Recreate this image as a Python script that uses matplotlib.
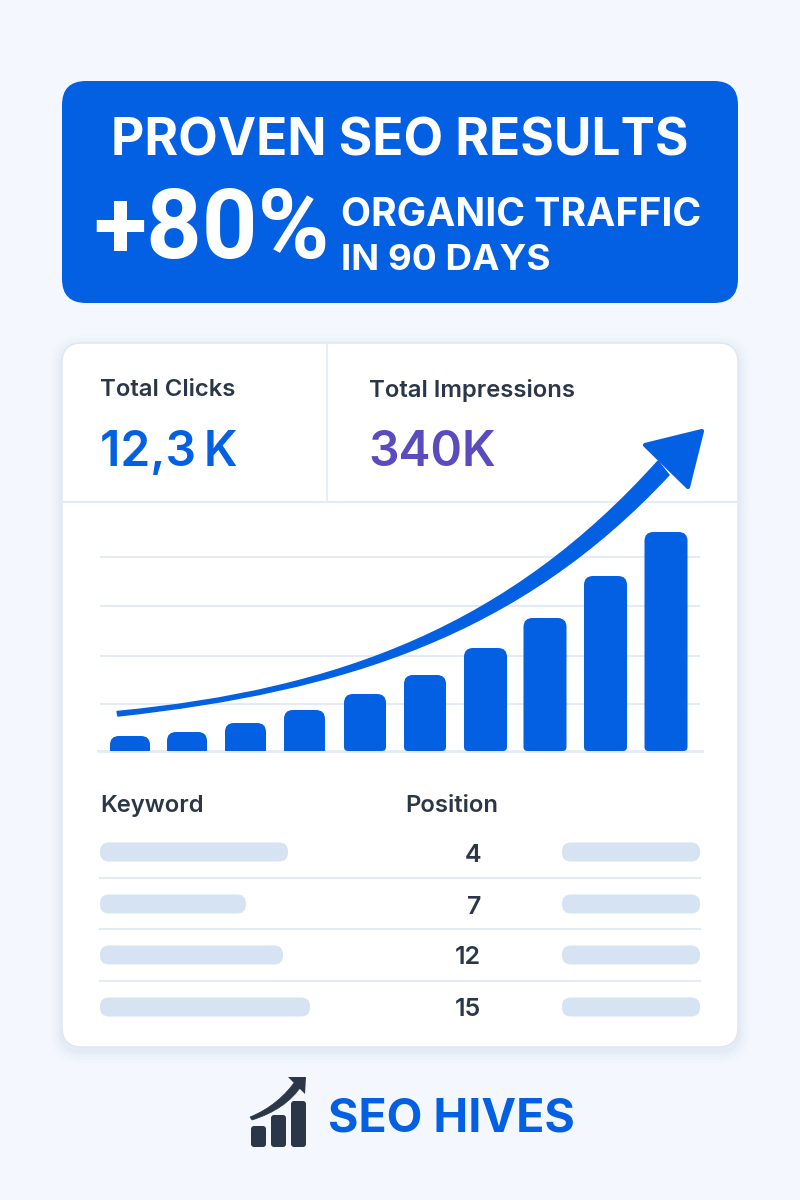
import matplotlib
matplotlib.use("Agg")
import matplotlib.pyplot as plt
from matplotlib.patches import FancyBboxPatch, PathPatch, Polygon
from matplotlib.path import Path

plt.rcParams["font.family"] = ["Inter", "DejaVu Sans"]

BLUE = "#0360E3"
DARK = "#2B3648"
PURPLE = "#5A4BBE"
LINE = "#E4EBF6"
PILL = "#D6E3F3"

# Chart values
bar_values = [15, 19, 28, 41, 57, 76, 103, 133, 175, 219]
grid_values = [47, 95, 145, 194]

# Table values
keyword_lengths = [188, 146, 183, 210]
positions = [4, 7, 12, 15]

kpi_labels = ["Total Clicks", "Total Impressions"]
kpi_values = ["12,3\u2009K", "340K"]

# Layout, in pixels
bar_centres = [130, 187, 245.5, 304.5, 365, 425, 485.5, 545, 605.5, 666]
bar_widths = [40, 40, 41, 41, 42, 42, 43, 43, 43, 43]
row_centres = [852, 904, 955, 1007]
row_lines = [878, 929, 981]


def rounded_box(ax, x0, y0, x1, y1, radius, **kwargs):
    box = FancyBboxPatch(
        (x0 + radius, y0 + radius),
        x1 - x0 - 2 * radius,
        y1 - y0 - 2 * radius,
        boxstyle=f"round,pad={radius},rounding_size={radius}",
        **kwargs,
    )
    ax.add_patch(box)
    return box


def bar_path(x0, x1, top, top_r, bottom_r):
    # Bar with big rounded top corners and small bottom ones
    verts = [
        (x0 + bottom_r, 0),
        (x1 - bottom_r, 0),
        (x1, 0),
        (x1, bottom_r),
        (x1, top - top_r),
        (x1, top),
        (x1 - top_r, top),
        (x0 + top_r, top),
        (x0, top),
        (x0, top - top_r),
        (x0, bottom_r),
        (x0, 0),
        (x0 + bottom_r, 0),
    ]
    codes = [
        Path.MOVETO, Path.LINETO, Path.CURVE3, Path.CURVE3, Path.LINETO,
        Path.CURVE3, Path.CURVE3, Path.LINETO, Path.CURVE3, Path.CURVE3,
        Path.LINETO, Path.CURVE3, Path.CURVE3,
    ]
    return Path(verts, codes)


fig = plt.figure(figsize=(8, 12), dpi=100, facecolor="#F4F8FE")
ax = fig.add_axes([0, 0, 1, 1], zorder=0)
ax.set_xlim(0, 800)
ax.set_ylim(1200, 0)
ax.axis("off")

# Header banner
rounded_box(ax, 62, 81, 738, 303, 24, fc=BLUE, ec="none")
ax.text(400, 142, "PROVEN SEO RESULTS", color="white", fontsize=37,
        weight="bold", ha="center", va="center")
ax.text(93, 232, "+80%", color="white", fontsize=70, weight="bold",
        family=["Roboto", "DejaVu Sans"], ha="left", va="center")
ax.text(341, 216, "ORGANIC TRAFFIC", color="white", fontsize=28.2,
        weight="bold", ha="left", va="center")
ax.text(341, 261, "IN 90 DAYS", color="white", fontsize=26.5,
        weight="bold", ha="left", va="center")

# Card with soft shadow
for grow, alpha in [(12, 0.012), (9, 0.015), (6, 0.02), (3, 0.03)]:
    rounded_box(ax, 62 - grow, 343 + 4 - grow, 738 + grow, 1047 + 4 + grow,
                20 + grow, fc="#3A5A9A", ec="none", alpha=alpha)
rounded_box(ax, 62, 343, 738, 1047, 20, fc="white", ec="#DFE6F2", lw=1)
ax.plot([62, 738], [502, 502], color=LINE, lw=1.5)
ax.plot([327, 327], [343, 502], color=LINE, lw=1.2)

# KPI block
ax.text(100, 390, kpi_labels[0], color=DARK, fontsize=17.2, weight="semibold",
        ha="left", va="center")
ax.text(369, 390, kpi_labels[1], color=DARK, fontsize=17.2, weight="semibold",
        ha="left", va="center")
ax.text(100, 453, kpi_values[0], color=BLUE, fontsize=34.5, weight="semibold",
        ha="left", va="center")
ax.text(368, 453, kpi_values[1], color=PURPLE, fontsize=34.5, weight="semibold",
        ha="left", va="center")

# Bar chart, one unit is one pixel
chart = fig.add_axes([98 / 800, 1 - 751 / 1200, 604 / 800, 251 / 1200], zorder=1)
chart.set_xlim(98, 702)
chart.set_ylim(0, 251)
chart.axis("off")
chart.hlines(grid_values, 100, 700, color=LINE, lw=1.5, zorder=1)
chart.plot([98, 702], [0, 0], color=LINE, lw=2, zorder=1, clip_on=False)

for i, (centre, width, value) in enumerate(zip(bar_centres, bar_widths, bar_values)):
    top_r = min(9, value * 0.6)
    bottom_r = 0 if i < 4 else 4
    chart.add_patch(PathPatch(
        bar_path(centre - width / 2, centre + width / 2, value, top_r, bottom_r),
        fc=BLUE, ec="none", zorder=2,
    ))

# Trend arrow over the bars, in page pixels
shaft = Path(
    [(117, 711.5), (340, 690), (510, 626), (658, 461), (669, 475),
     (520, 635), (345, 691), (118, 716), (117, 711.5)],
    [Path.MOVETO, Path.CURVE4, Path.CURVE4, Path.CURVE4, Path.LINETO,
     Path.CURVE4, Path.CURVE4, Path.CURVE4, Path.CLOSEPOLY],
)
chart.add_patch(PathPatch(shaft, fc=BLUE, ec=BLUE, lw=1, zorder=3,
                          transform=ax.transData, clip_on=False))
chart.add_patch(Polygon([(702, 431), (645, 445), (688, 487)], closed=True,
                        fc=BLUE, ec=BLUE, lw=3, joinstyle="round", zorder=3,
                        transform=ax.transData, clip_on=False))

# Keyword table
ax.text(100, 806, "Keyword", color=DARK, fontsize=17.2, weight="semibold",
        ha="left", va="center")
ax.text(405, 806, "Position", color=DARK, fontsize=17.2, weight="semibold",
        ha="left", va="center")
for y, length, pos in zip(row_centres, keyword_lengths, positions):
    rounded_box(ax, 100, y - 9.5, 100 + length, y + 9.5, 9, fc=PILL, ec="none")
    rounded_box(ax, 562, y - 9.5, 700, y + 9.5, 9, fc=PILL, ec="none")
    ax.text(481, y + 3, str(pos), color=DARK, fontsize=18, weight="semibold",
            ha="right", va="center")
for y in row_lines:
    ax.plot([100, 700], [y, y], color=LINE, lw=1.5)

# Logo
for x0, top in [(251, 1126), (271, 1115), (291, 1101)]:
    rounded_box(ax, x0, top, x0 + 15, 1147, 3, fc=DARK, ec="none")
swoosh = Path(
    [(250, 1117), (270, 1109), (286, 1095), (296, 1080), (302, 1085),
     (291, 1102), (274, 1113), (252, 1120), (250, 1117)],
    [Path.MOVETO, Path.CURVE4, Path.CURVE4, Path.CURVE4, Path.LINETO,
     Path.CURVE4, Path.CURVE4, Path.CURVE4, Path.CLOSEPOLY],
)
ax.add_patch(PathPatch(swoosh, fc=DARK, ec=DARK, lw=0.5))
ax.add_patch(Polygon([(306, 1077), (288, 1077), (305, 1094)], closed=True,
                     fc=DARK, ec="none"))
ax.text(328, 1120, "SEO HIVES", color=BLUE, fontsize=33.5, weight="bold",
        ha="left", va="center")

fig.savefig("out.png", dpi=100, facecolor=fig.get_facecolor())
